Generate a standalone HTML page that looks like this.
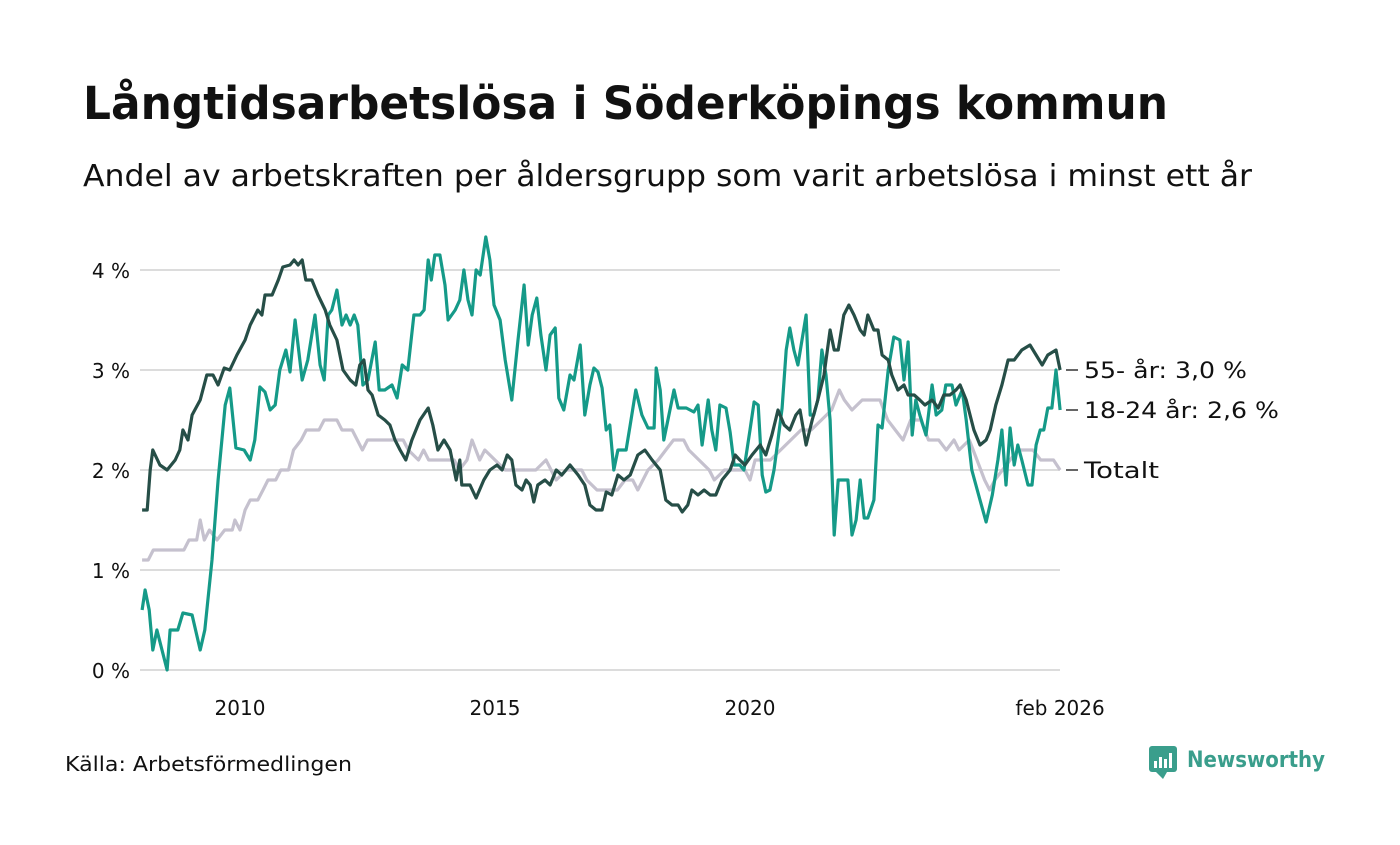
<!DOCTYPE html>
<html><head><meta charset="utf-8">
<style>
body{margin:0;background:#fff;width:1400px;height:840px;overflow:hidden;}
svg text{font-family:"DejaVu Sans","Liberation Sans",sans-serif;}
</style></head>
<body>
<svg id="chart" width="1400" height="840">
<text x="83" y="119" font-size="45" font-weight="bold" fill="#111" textLength="1085" lengthAdjust="spacingAndGlyphs">Långtidsarbetslösa i Söderköpings kommun</text>
<text x="83" y="186" font-size="30" fill="#111" textLength="1169" lengthAdjust="spacingAndGlyphs">Andel av arbetskraften per åldersgrupp som varit arbetslösa i minst ett år</text>
<g id="grid"></g>
<g id="yticks"></g>
<g id="xticks"></g>
<g id="lines"></g>
<g id="labels"></g>
<text x="65" y="771" font-size="20" fill="#111" textLength="287" lengthAdjust="spacingAndGlyphs">Källa: Arbetsförmedlingen</text>
<g>
<rect x="1149" y="746" width="28" height="26" rx="3" fill="#3a9e8c"/>
<polygon points="1156,772 1163,779 1167,772" fill="#3a9e8c"/>
<rect x="1154" y="761" width="3" height="7" fill="#fff"/><rect x="1159" y="757" width="3" height="11" fill="#fff"/><rect x="1164" y="759" width="3" height="9" fill="#fff"/><rect x="1169" y="753" width="3" height="15" fill="#fff"/>
<text x="1187" y="767" font-size="22" font-weight="bold" fill="#3a9e8c" textLength="138" lengthAdjust="spacingAndGlyphs">Newsworthy</text>
</g>
</svg>
<script>
const yTicks=[0,1,2,3,4];
const yTickLabels=["0 %","1 %","2 %","3 %","4 %"];
const xTicks=[2010,2015,2020,2026.08];
const xTickLabels=["2010","2015","2020","feb 2026"];
const seriesNames=["Totalt","18-24 år","55- år"];
const totalYears=[2008.08,2008.2,2008.3,2008.9,2009.0,2009.15,2009.22,2009.3,2009.4,2009.55,2009.7,2009.85,2009.9,2010.0,2010.1,2010.2,2010.35,2010.45,2010.55,2010.7,2010.8,2010.95,2011.05,2011.2,2011.3,2011.55,2011.65,2011.9,2012.0,2012.2,2012.4,2012.5,2013.2,2013.3,2013.5,2013.6,2013.7,2014.2,2014.3,2014.45,2014.55,2014.7,2014.8,2015.0,2015.2,2015.8,2016.0,2016.2,2016.4,2016.7,2016.8,2017.0,2017.4,2017.55,2017.7,2017.8,2018.0,2018.2,2018.35,2018.5,2018.7,2018.8,2019.0,2019.2,2019.3,2019.5,2019.9,2020.0,2020.1,2020.4,2020.6,2020.8,2021.0,2021.2,2021.4,2021.6,2021.75,2021.85,2022.0,2022.2,2022.55,2022.7,2022.85,2023.0,2023.15,2023.35,2023.5,2023.7,2023.85,2024.0,2024.1,2024.3,2024.45,2024.6,2024.7,2024.8,2024.95,2025.1,2025.25,2025.55,2025.7,2025.95,2026.08];
const totalValues=[1.1,1.1,1.2,1.2,1.3,1.3,1.5,1.3,1.4,1.3,1.4,1.4,1.5,1.4,1.6,1.7,1.7,1.8,1.9,1.9,2.0,2.0,2.2,2.3,2.4,2.4,2.5,2.5,2.4,2.4,2.2,2.3,2.3,2.2,2.1,2.2,2.1,2.1,2.0,2.1,2.3,2.1,2.2,2.1,2.0,2.0,2.1,1.9,2.0,2.0,1.9,1.8,1.8,1.9,1.9,1.8,2.0,2.1,2.2,2.3,2.3,2.2,2.1,2.0,1.9,2.0,2.0,1.9,2.1,2.1,2.2,2.3,2.4,2.4,2.5,2.6,2.8,2.7,2.6,2.7,2.7,2.5,2.4,2.3,2.5,2.5,2.3,2.3,2.2,2.3,2.2,2.3,2.1,1.9,1.8,1.9,2.0,2.1,2.2,2.2,2.1,2.1,2.0];
const youthYears=[2008.08,2008.14,2008.22,2008.29,2008.37,2008.47,2008.57,2008.63,2008.78,2008.88,2009.06,2009.22,2009.31,2009.45,2009.57,2009.71,2009.80,2009.92,2010.08,2010.20,2010.29,2010.39,2010.49,2010.59,2010.69,2010.78,2010.90,2010.98,2011.08,2011.22,2011.33,2011.47,2011.57,2011.65,2011.73,2011.80,2011.90,2012.00,2012.08,2012.16,2012.24,2012.31,2012.41,2012.51,2012.65,2012.73,2012.84,2012.98,2013.08,2013.18,2013.29,2013.41,2013.53,2013.61,2013.69,2013.75,2013.82,2013.92,2014.02,2014.08,2014.22,2014.31,2014.39,2014.47,2014.55,2014.63,2014.71,2014.82,2014.90,2014.98,2015.10,2015.20,2015.33,2015.45,2015.57,2015.65,2015.73,2015.82,2015.90,2016.00,2016.08,2016.18,2016.25,2016.35,2016.47,2016.55,2016.67,2016.76,2016.86,2016.94,2017.02,2017.10,2017.18,2017.25,2017.33,2017.41,2017.57,2017.65,2017.76,2017.88,2018.00,2018.12,2018.16,2018.24,2018.31,2018.39,2018.51,2018.59,2018.75,2018.90,2018.98,2019.06,2019.18,2019.25,2019.33,2019.41,2019.53,2019.61,2019.69,2019.80,2019.88,2020.00,2020.08,2020.16,2020.24,2020.31,2020.39,2020.47,2020.55,2020.63,2020.71,2020.78,2020.86,2020.94,2021.02,2021.10,2021.18,2021.25,2021.33,2021.41,2021.49,2021.57,2021.65,2021.73,2021.92,2022.00,2022.08,2022.16,2022.24,2022.31,2022.43,2022.51,2022.59,2022.71,2022.82,2022.94,2023.02,2023.10,2023.18,2023.25,2023.33,2023.45,2023.57,2023.65,2023.76,2023.84,2023.96,2024.04,2024.16,2024.24,2024.35,2024.51,2024.63,2024.75,2024.86,2024.94,2025.02,2025.10,2025.18,2025.25,2025.33,2025.45,2025.53,2025.61,2025.69,2025.76,2025.84,2025.92,2026.00,2026.08];
const youthValues=[0.6,0.8,0.6,0.2,0.4,0.2,0.0,0.4,0.4,0.57,0.55,0.2,0.4,1.1,1.9,2.65,2.82,2.22,2.2,2.1,2.3,2.83,2.78,2.6,2.65,3.0,3.2,2.98,3.5,2.9,3.1,3.55,3.05,2.9,3.55,3.6,3.8,3.45,3.55,3.45,3.55,3.45,2.85,2.9,3.28,2.8,2.8,2.85,2.72,3.05,3.0,3.55,3.55,3.6,4.1,3.9,4.15,4.15,3.85,3.5,3.6,3.7,4.0,3.7,3.55,4.0,3.95,4.33,4.1,3.65,3.5,3.1,2.7,3.3,3.85,3.25,3.55,3.72,3.35,3.0,3.35,3.42,2.72,2.6,2.95,2.9,3.25,2.55,2.85,3.02,2.98,2.82,2.4,2.45,2.0,2.2,2.2,2.45,2.8,2.55,2.42,2.42,3.02,2.8,2.3,2.5,2.8,2.62,2.62,2.58,2.65,2.25,2.7,2.4,2.2,2.65,2.62,2.38,2.05,2.05,2.0,2.4,2.68,2.65,1.95,1.78,1.8,2.0,2.3,2.62,3.2,3.42,3.2,3.05,3.3,3.55,2.55,2.55,2.7,3.2,2.95,2.5,1.35,1.9,1.9,1.35,1.5,1.9,1.52,1.52,1.7,2.45,2.42,3.0,3.33,3.3,2.9,3.28,2.35,2.7,2.55,2.35,2.85,2.55,2.6,2.85,2.85,2.65,2.8,2.5,2.0,1.7,1.48,1.75,2.1,2.4,1.85,2.42,2.05,2.25,2.1,1.85,1.85,2.25,2.4,2.4,2.62,2.62,3.0,2.6];
const seniorYears=[2008.08,2008.18,2008.24,2008.29,2008.43,2008.57,2008.73,2008.82,2008.88,2008.98,2009.06,2009.22,2009.35,2009.47,2009.57,2009.69,2009.80,2009.94,2010.10,2010.20,2010.35,2010.43,2010.49,2010.63,2010.75,2010.84,2010.98,2011.06,2011.14,2011.22,2011.29,2011.41,2011.53,2011.67,2011.76,2011.90,2012.02,2012.16,2012.27,2012.35,2012.43,2012.51,2012.59,2012.71,2012.84,2012.94,2013.04,2013.14,2013.25,2013.37,2013.53,2013.69,2013.78,2013.88,2014.00,2014.12,2014.24,2014.31,2014.35,2014.51,2014.63,2014.78,2014.90,2015.04,2015.14,2015.24,2015.33,2015.41,2015.53,2015.61,2015.69,2015.76,2015.84,2015.98,2016.08,2016.20,2016.31,2016.47,2016.63,2016.76,2016.86,2016.98,2017.10,2017.18,2017.29,2017.41,2017.53,2017.65,2017.80,2017.94,2018.08,2018.24,2018.35,2018.47,2018.59,2018.67,2018.78,2018.86,2018.98,2019.10,2019.22,2019.33,2019.45,2019.61,2019.71,2019.80,2019.90,2020.04,2020.20,2020.31,2020.43,2020.55,2020.67,2020.78,2020.90,2020.98,2021.10,2021.22,2021.33,2021.45,2021.57,2021.65,2021.73,2021.84,2021.94,2022.04,2022.16,2022.24,2022.31,2022.43,2022.51,2022.59,2022.71,2022.78,2022.90,2023.02,2023.10,2023.22,2023.33,2023.43,2023.57,2023.69,2023.80,2023.92,2024.04,2024.12,2024.24,2024.39,2024.51,2024.63,2024.71,2024.82,2024.94,2025.06,2025.18,2025.33,2025.49,2025.61,2025.73,2025.84,2026.00,2026.08];
const seniorValues=[1.6,1.6,2.0,2.2,2.05,2.0,2.1,2.2,2.4,2.3,2.55,2.7,2.95,2.95,2.85,3.02,3.0,3.15,3.3,3.45,3.6,3.55,3.75,3.75,3.9,4.03,4.05,4.1,4.05,4.1,3.9,3.9,3.75,3.6,3.45,3.3,3.0,2.9,2.85,3.05,3.1,2.8,2.75,2.55,2.5,2.45,2.3,2.2,2.1,2.3,2.5,2.62,2.45,2.2,2.3,2.2,1.9,2.1,1.85,1.85,1.72,1.9,2.0,2.05,2.0,2.15,2.1,1.85,1.8,1.9,1.85,1.68,1.85,1.9,1.85,2.0,1.95,2.05,1.95,1.85,1.65,1.6,1.6,1.78,1.75,1.95,1.9,1.95,2.15,2.2,2.1,2.0,1.7,1.65,1.65,1.58,1.65,1.8,1.75,1.8,1.75,1.75,1.9,2.0,2.15,2.1,2.05,2.15,2.25,2.15,2.35,2.6,2.45,2.4,2.55,2.6,2.25,2.5,2.7,2.95,3.4,3.2,3.2,3.55,3.65,3.55,3.4,3.35,3.55,3.4,3.4,3.15,3.1,2.95,2.8,2.85,2.75,2.75,2.7,2.65,2.7,2.62,2.75,2.75,2.8,2.85,2.7,2.4,2.25,2.3,2.4,2.65,2.85,3.1,3.1,3.2,3.25,3.15,3.05,3.15,3.2,3.0];

const NS="http://www.w3.org/2000/svg";
const xScale=y=>240+(y-2010)*51;
const yScale=v=>670-v*100;
function mk(tag,attrs,parent){const e=document.createElementNS(NS,tag);for(const k in attrs)e.setAttribute(k,attrs[k]);parent.appendChild(e);return e;}
const grid=document.getElementById('grid'),yt=document.getElementById('yticks'),xt=document.getElementById('xticks'),lines=document.getElementById('lines'),labels=document.getElementById('labels');
yTicks.forEach((v,i)=>{
  const l=mk('line',{x1:140,x2:1060,y1:yScale(v),y2:yScale(v),stroke:'#dcdcdc','stroke-width':2},grid);
  
  
  const t=mk('text',{x:130,y:yScale(v)+8,'text-anchor':'end','font-size':20,fill:'#111'},yt);
  t.textContent=yTickLabels[i];
  
  
});
xTicks.forEach((v,i)=>{
  const t=mk('text',{x:xScale(v),y:715,'text-anchor':'middle','font-size':20,fill:'#111'},xt);
  t.textContent=xTickLabels[i];
  
  
});
const series=[[totalYears,totalValues,'#c5c1ce',seriesNames[0]],[youthYears,youthValues,'#159a88',seriesNames[1]],[seniorYears,seniorValues,'#264e47',seriesNames[2]]];
series.forEach(([xs,vs,c,name],si)=>{
  const d=xs.map((x,i)=>(i?'L':'M')+xScale(x).toFixed(1)+','+yScale(vs[i]).toFixed(1)).join('');
  const p=mk('path',{d:d,fill:'none',stroke:c,'stroke-width':3.2,'stroke-linejoin':'round'},lines);
  
  
});
const lastY=[yScale(totalValues[totalValues.length-1]),yScale(youthValues[youthValues.length-1]),yScale(seniorValues[seniorValues.length-1])];
const labY=[lastY[0],lastY[1],lastY[2]];
const labTxt=["Totalt","18-24 år: "+youthValues[youthValues.length-1].toFixed(1).replace('.',',')+" %","55- år: "+seniorValues[seniorValues.length-1].toFixed(1).replace('.',',')+" %"];
const labW=[75,195,163];
labTxt.forEach((s,i)=>{
  const l=mk('path',{d:'M1066,'+lastY[i]+'L1078,'+labY[i],stroke:'#333','stroke-width':1.5,fill:'none'},labels);
  
  
  const t=mk('text',{x:1084,y:labY[i]+8,'font-size':22,fill:'#111',textLength:labW[i],lengthAdjust:'spacingAndGlyphs'},labels);
  t.textContent=s;
  
  
});
</script>
</body></html>
